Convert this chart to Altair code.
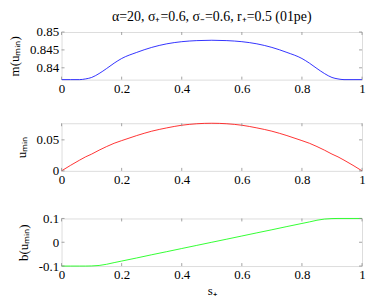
import altair as alt
import pandas as pd

s_vals = [0.0, 0.03, 0.06, 0.08, 0.1, 0.125, 0.15, 0.175, 0.2, 0.25, 0.3, 0.35, 0.4, 0.45, 0.5,
          0.55, 0.6, 0.65, 0.7, 0.75, 0.8, 0.825, 0.85, 0.875, 0.9, 0.92, 0.94, 0.97, 1.0]
m_vals = [0.8367, 0.8367, 0.8367, 0.8369, 0.8373, 0.8384, 0.8398, 0.8413, 0.8426, 0.8443, 0.8457,
          0.8467, 0.8473, 0.8476, 0.8477,
          0.8476, 0.8473, 0.8467, 0.8457, 0.8443, 0.8426, 0.8413, 0.8398, 0.8384, 0.8373, 0.8369,
          0.8367, 0.8367, 0.8367]
u_vals = [0.0, 0.0089, 0.0173, 0.0226, 0.0270, 0.0334, 0.0392, 0.0445, 0.0488, 0.0569, 0.0640,
          0.0693, 0.0736, 0.0760, 0.0768,
          0.0760, 0.0736, 0.0693, 0.0640, 0.0569, 0.0488, 0.0445, 0.0392, 0.0334, 0.0270, 0.0226,
          0.0173, 0.0089, 0.0]
b_vals = [-0.1, -0.1, -0.1, -0.1, -0.0995, -0.0975, -0.0925, -0.0855, -0.079, -0.066, -0.0525,
          -0.0395, -0.0263, -0.0131, 0.0,
          0.0131, 0.0263, 0.0395, 0.0525, 0.066, 0.079, 0.0855, 0.0925, 0.0975, 0.0995, 0.1,
          0.1, 0.1, 0.1]

x_ticks = [0, 0.2, 0.4, 0.6, 0.8, 1]
m_ticks = [0.84, 0.845, 0.85]
u_ticks = [0, 0.05]
b_ticks = [-0.1, 0, 0.1]

title_text = "α=20, σ₊=0.6, σ₋=0.6, r₊=0.5 (01pe)"
W, H = 303, 48
FONT = "Liberation Serif"
GRAY = "#8c8c8c"

df = pd.DataFrame({"s": s_vals, "m": m_vals, "u": u_vals, "b": b_vals})
xt = pd.DataFrame({"t": x_ticks})


def panel(col, color, domain, yticks, ytitle, xtitle=None):
    xs = alt.Scale(domain=[0, 1], nice=False)
    ys = alt.Scale(domain=domain, nice=False, zero=False)
    xaxis = alt.Axis(values=x_ticks, labelExpr="'' + datum.value", title=xtitle,
                     grid=False, domain=False, ticks=False, labelPadding=3,
                     labelFont=FONT, labelFontSize=13, labelColor="black",
                     labelOverlap=False, labelFlush=False,
                     titleFont=FONT, titleFontSize=13, titleFontWeight="normal",
                     titleColor="black", titlePadding=3)
    yaxis = alt.Axis(values=yticks, labelExpr="'' + datum.value", title=ytitle,
                     grid=False, domain=False, ticks=False, labelPadding=3,
                     labelFont=FONT, labelFontSize=13, labelColor="black",
                     labelOverlap=False, labelFlush=False,
                     titleFont=FONT, titleFontSize=13, titleFontWeight="normal",
                     titleColor="black", titlePadding=8)
    line = alt.Chart(df).mark_line(color=color, strokeWidth=0.8, interpolate="monotone").encode(
        x=alt.X("s:Q", scale=xs, axis=xaxis),
        y=alt.Y(f"{col}:Q", scale=ys, axis=yaxis),
    )
    yt = pd.DataFrame({"t": yticks})
    bt = alt.Chart(xt).mark_rule(color=GRAY, strokeWidth=0.8).encode(
        x=alt.X("t:Q", scale=xs, axis=xaxis), y=alt.value(H), y2=alt.value(H - 3))
    tt = alt.Chart(xt).mark_rule(color=GRAY, strokeWidth=0.8).encode(
        x=alt.X("t:Q", scale=xs, axis=xaxis), y=alt.value(0), y2=alt.value(3))
    lt = alt.Chart(yt).mark_rule(color=GRAY, strokeWidth=0.8).encode(
        y=alt.Y("t:Q", scale=ys, axis=yaxis), x=alt.value(0), x2=alt.value(3))
    rt = alt.Chart(yt).mark_rule(color=GRAY, strokeWidth=0.8).encode(
        y=alt.Y("t:Q", scale=ys, axis=yaxis), x=alt.value(W), x2=alt.value(W - 3))
    return alt.layer(line, bt, tt, lt, rt).properties(width=W, height=H)


p1 = panel("m", "#0000ff", [0.8367, 0.85], m_ticks, "m(uₘᵢₙ)").properties(
    title=alt.Title(title_text, font=FONT, fontSize=14, fontWeight="normal",
                    color="black", anchor="middle", offset=2))
p2 = panel("u", "#ff0000", [0, 0.0768], u_ticks, "uₘᵢₙ")
p3 = panel("b", "#00ff00", [-0.1, 0.1], b_ticks, "b(uₘᵢₙ)", xtitle="s₊")

chart = alt.vconcat(p1, p2, p3, spacing=24).configure_view(
    stroke=GRAY, strokeWidth=1).configure(background="white").properties(
    padding={"left": 0, "top": 0, "right": 0, "bottom": 0})

chart.save("out.html", embed_options={"renderer": "svg", "actions": False})
